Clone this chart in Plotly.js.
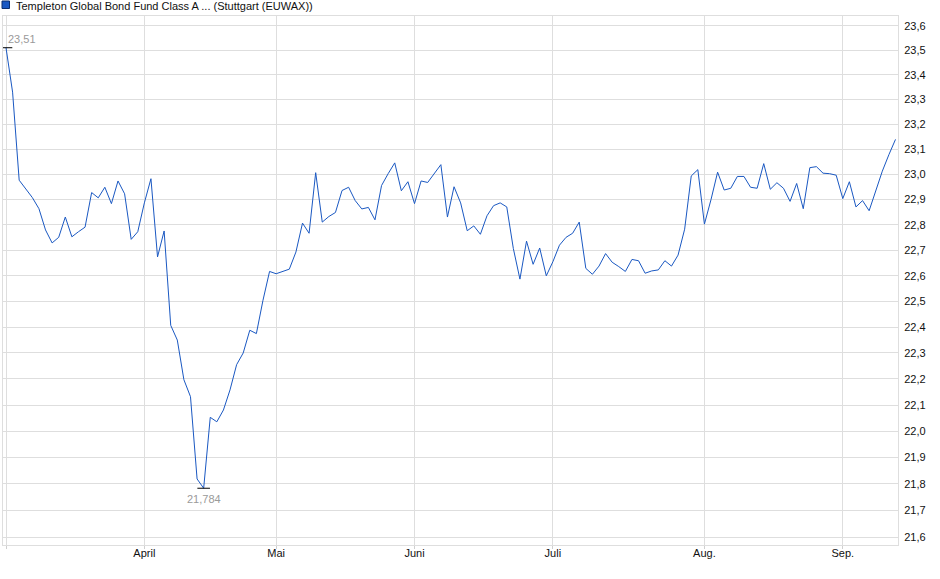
<!DOCTYPE html>
<html>
<head>
<meta charset="utf-8">
<script src="https://cdn.plot.ly/plotly-3.0.1.min.js"></script>
<style>
  html, body { margin: 0; padding: 0; background: #fff; }
  #chart { width: 940px; height: 579px; }
</style>
</head>
<body>
<div id="chart"></div>
<script>
// ---- data ----
const seriesName = 'Templeton Global Bond Fund Class A ... (Stuttgart (EUWAX))';
const startDate = '2025-03-03';
const holidays = ['2025-04-18', '2025-04-21', '2025-05-01'];

const prices = [
  23.51, 23.33, 22.977, 22.942, 22.908, 22.864, 22.78, 22.729, 22.751, 22.831,
  22.753, 22.773, 22.791, 22.928, 22.907, 22.949, 22.884, 22.974, 22.923, 22.743,
  22.773, 22.887, 22.983, 22.674, 22.776, 22.407, 22.35, 22.197, 22.132, 21.819,
  21.784, 22.053, 22.036, 22.081, 22.158, 22.255, 22.3, 22.388, 22.375, 22.504,
  22.617, 22.608, 22.617, 22.626, 22.693, 22.807, 22.767, 23.007, 22.811, 22.833,
  22.849, 22.936, 22.949, 22.896, 22.863, 22.869, 22.82, 22.956, 23.003, 23.046,
  22.935, 22.971, 22.884, 22.974, 22.968, 23.003, 23.039, 22.831, 22.951, 22.887,
  22.777, 22.796, 22.763, 22.836, 22.876, 22.887, 22.871, 22.707, 22.587, 22.736,
  22.645, 22.709, 22.6, 22.655, 22.72, 22.751, 22.767, 22.811, 22.629, 22.606,
  22.638, 22.687, 22.653, 22.636, 22.617, 22.664, 22.659, 22.61, 22.619, 22.623,
  22.659, 22.638, 22.681, 22.783, 22.994, 23.019, 22.803, 22.9, 23.009, 22.938,
  22.945, 22.992, 22.992, 22.949, 22.945, 23.043, 22.941, 22.967, 22.945, 22.893,
  22.964, 22.864, 23.027, 23.031, 23.005, 23.003, 22.997, 22.904, 22.971, 22.871,
  22.896, 22.856, 22.935, 23.013, 23.079, 23.14
];

const xTickDates  = ['2025-03-03', '2025-04-01', '2025-05-02', '2025-06-02', '2025-07-01', '2025-08-01', '2025-09-01'];
const xTickLabels = ['', 'April', 'Mai', 'Juni', 'Juli', 'Aug.', 'Sep.'];

const yTickVals   = [21.6, 21.7, 21.8, 21.9, 22.0, 22.1, 22.2, 22.3, 22.4, 22.5, 22.6, 22.7, 22.8, 22.9, 23.0, 23.1, 23.2, 23.3, 23.4, 23.5, 23.6];
const yTickLabels = ['21,6', '21,7', '21,8', '21,9', '22,0', '22,1', '22,2', '22,3', '22,4', '22,5', '22,6', '22,7', '22,8', '22,9', '23,0', '23,1', '23,2', '23,3', '23,4', '23,5', '23,6'];

const maxLabel = '23,51';
const minLabel = '21,784';

// ---- trading-day dates (weekdays minus exchange holidays) ----
function pad(n) { return (n < 10 ? '0' : '') + n; }
const dates = [];
{
  const d = new Date(startDate + 'T12:00:00Z');
  while (dates.length < prices.length) {
    const s = d.getUTCFullYear() + '-' + pad(d.getUTCMonth() + 1) + '-' + pad(d.getUTCDate());
    const wd = d.getUTCDay();
    if (wd !== 0 && wd !== 6 && holidays.indexOf(s) < 0) dates.push(s);
    d.setUTCDate(d.getUTCDate() + 1);
  }
}

let maxIdx = 0, minIdx = 0;
prices.forEach((v, i) => { if (v > prices[maxIdx]) maxIdx = i; if (v < prices[minIdx]) minIdx = i; });

const lineColor = '#1a58c2';
const gridColor = '#dedede';
const font = 'Liberation Sans, Arial, sans-serif';

const traces = [
  {
    x: dates, y: prices, type: 'scatter', mode: 'lines',
    line: { color: lineColor, width: 1 },
    hoverinfo: 'skip', showlegend: false
  },
  {
    x: [dates[maxIdx], dates[minIdx]],
    y: [prices[maxIdx], prices[minIdx]],
    type: 'scatter', mode: 'markers',
    marker: { symbol: 'line-ew', size: 9, line: { width: 1, color: '#000' } },
    hoverinfo: 'skip', showlegend: false
  }
];

const layout = {
  width: 940, height: 579,
  margin: { l: 3, r: 42, t: 16, b: 34 },
  paper_bgcolor: '#fff', plot_bgcolor: '#fff',
  font: { family: font, size: 11, color: '#111' },
  showlegend: false,
  xaxis: {
    type: 'category',
    range: [-0.455, 135.38],
    tickmode: 'array', tickvals: xTickDates, ticktext: xTickLabels,
    showgrid: true, gridcolor: gridColor, gridwidth: 1,
    ticks: 'outside', ticklen: 3, tickcolor: '#cfcfcf',
    ticklabelstandoff: -5,
    showline: true, linecolor: gridColor, mirror: true,
    zeroline: false,
    tickfont: { family: font, size: 11, color: '#111' },
    fixedrange: true
  },
  yaxis: {
    type: 'log', side: 'right',
    range: [Math.log10(21.571), Math.log10(23.6395)],
    tickmode: 'array', tickvals: yTickVals, ticktext: yTickLabels,
    showgrid: true, gridcolor: gridColor, gridwidth: 1,
    ticks: '', ticklabelstandoff: 3,
    showline: true, linecolor: gridColor, mirror: true,
    zeroline: false,
    tickfont: { family: font, size: 11, color: '#111' },
    fixedrange: true
  },
  shapes: [
    {
      type: 'rect', xref: 'paper', yref: 'paper',
      xsizemode: 'pixel', ysizemode: 'pixel',
      xanchor: 0, yanchor: 1,
      x0: -1, x1: 6.5, y0: 7.5, y1: 15,
      fillcolor: '#1a58c2', line: { color: '#0d2f6e', width: 1 }
    }
  ],
  annotations: [
    {
      xref: 'paper', yref: 'paper', x: 0, y: 1,
      xanchor: 'left', yanchor: 'middle', xshift: 11, yshift: 10.5,
      text: seriesName, showarrow: false,
      font: { family: font, size: 11, color: '#111' }
    },
    {
      x: dates[maxIdx], y: Math.log10(prices[maxIdx]),
      xanchor: 'left', yanchor: 'middle', xshift: 0, yshift: 9,
      text: maxLabel, showarrow: false,
      font: { family: font, size: 11, color: '#9a9a9a' }
    },
    {
      x: dates[minIdx], y: Math.log10(prices[minIdx]),
      xanchor: 'center', yanchor: 'middle', xshift: 0, yshift: -11,
      text: minLabel, showarrow: false,
      font: { family: font, size: 11, color: '#9a9a9a' }
    }
  ]
};

Plotly.newPlot('chart', traces, layout, { displayModeBar: false, staticPlot: true });
</script>
</body>
</html>
